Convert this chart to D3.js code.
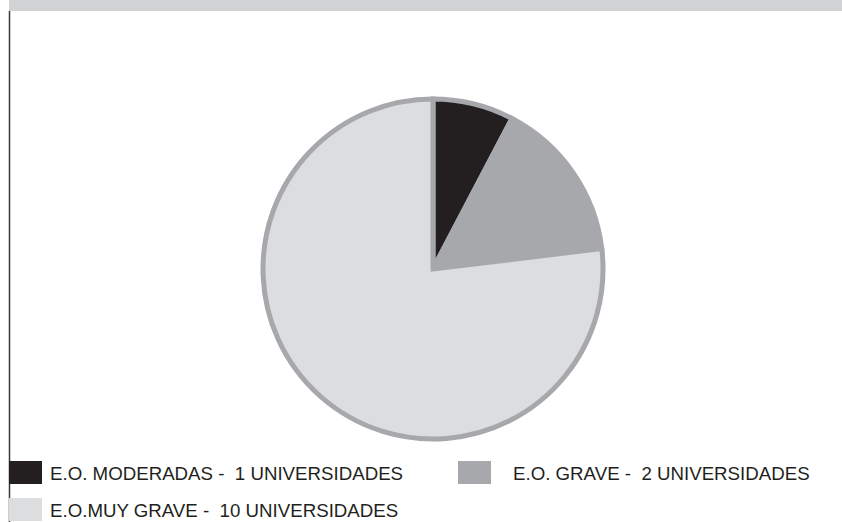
<!DOCTYPE html>
<html>
<head>
<meta charset="utf-8">
<script src="https://cdn.jsdelivr.net/npm/d3@7/dist/d3.min.js"></script>
<style>
  html, body { margin: 0; padding: 0; background: #ffffff; }
  svg { display: block; }
  text { font-family: "Liberation Sans", Arial, sans-serif; white-space: pre; }
</style>
</head>
<body>
<svg id="chart" width="842" height="522"></svg>
<script>
// Universities by level of the E.O. classification
const categories = ["E.O. MODERADAS", "E.O. GRAVE", "E.O.MUY GRAVE"];
const values = [1, 2, 10];
const colors = ["#231f20", "#a7a8ab", "#dcdddf"];
const legendLabels = [
  "E.O. MODERADAS -  1 UNIVERSIDADES",
  "E.O. GRAVE -  2 UNIVERSIDADES",
  "E.O.MUY GRAVE -  10 UNIVERSIDADES"
];

const svg = d3.select("#chart");
const W = 842, H = 522;

// top band and left rule
svg.append("rect")
  .attr("x", 9).attr("y", 0)
  .attr("width", W - 9).attr("height", 11)
  .attr("fill", "#d1d2d4");
svg.append("line")
  .attr("x1", 9.5).attr("x2", 9.5)
  .attr("y1", 11).attr("y2", H)
  .attr("stroke", "#3a3a3a").attr("stroke-width", 1.5);

// pie
const cx = 433, cy = 269, radius = 170;
const data = categories.map((c, i) => ({ name: c, value: values[i], color: colors[i] }));
const pie = d3.pie().value(d => d.value).sort(null);
const arc = d3.arc().innerRadius(0).outerRadius(radius);

const g = svg.append("g").attr("transform", `translate(${cx},${cy})`);
g.selectAll("path.slice")
  .data(pie(data))
  .join("path")
  .attr("class", "slice")
  .attr("d", arc)
  .attr("fill", d => d.data.color)
  .attr("stroke", "#a7a8ab")
  .attr("stroke-width", 5)
  .attr("stroke-linejoin", "miter");

// legend
const legendPos = [
  { x: 9, y: 461 },
  { x: 458, y: 461 },
  { x: 9, y: 498 }
];
const leg = svg.append("g");
data.forEach((d, i) => {
  const p = legendPos[i];
  leg.append("rect")
    .attr("x", p.x).attr("y", p.y)
    .attr("width", 33).attr("height", 23)
    .attr("fill", d.color);
  leg.append("text")
    .attr("x", p.x + (i === 1 ? 55 : 41))
    .attr("y", p.y + 18.5)
    .attr("xml:space", "preserve")
    .attr("font-size", 18.7)
    .attr("fill", "#231f20")
    .text(legendLabels[i]);
});
</script>
</body>
</html>
